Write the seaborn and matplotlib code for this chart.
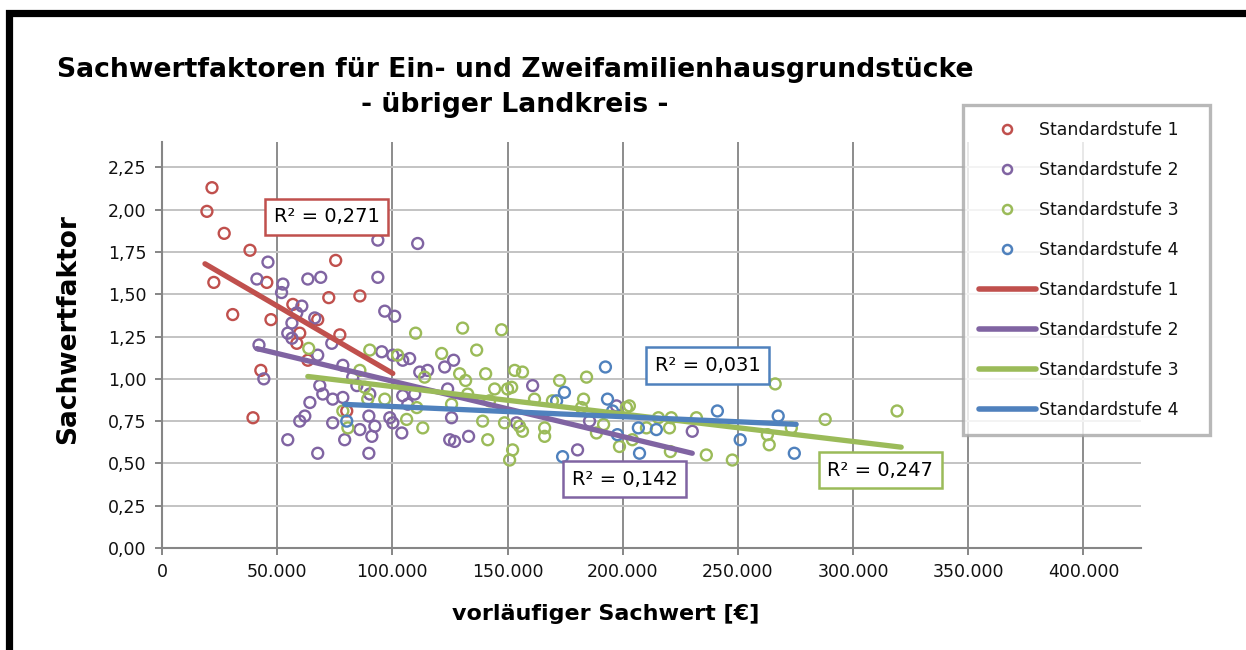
import numpy as np
import pandas as pd
import matplotlib
matplotlib.use("Agg")
import matplotlib.pyplot as plt
from matplotlib.lines import Line2D
from matplotlib.patches import Rectangle
from matplotlib.ticker import FuncFormatter, MultipleLocator
import seaborn as sns

# --- Daten ---
stufen = ["Standardstufe 1", "Standardstufe 2", "Standardstufe 3", "Standardstufe 4"]
farben = ["#C0504D", "#8064A2", "#9BBB59", "#4F81BD"]

s1_x = [21700, 19500, 27000, 38200, 22500, 45500, 30700, 47300, 75400, 72400,
        85900, 56800, 67600, 59800, 77200, 58500, 63300, 42900, 39500, 80200]
s1_y = [2.13, 1.99, 1.86, 1.76, 1.57, 1.57, 1.38, 1.35, 1.70, 1.48,
        1.49, 1.44, 1.35, 1.27, 1.26, 1.21, 1.11, 1.05, 0.77, 0.81]

s2_x = [46000, 41200, 52500, 51900, 63300, 68900, 60700, 58500, 56400, 66300,
        54600, 56400, 93700, 93700, 96700, 101000, 73700, 42100, 111000, 44200,
        54600, 67600, 59800, 62000, 64200, 68500, 69800, 74100, 78500, 74100,
        79300, 89800, 85900, 91100, 92400, 89800, 98900, 100200, 104100, 78500,
        67600, 95400, 100200, 104500, 84600, 90200, 82800, 107500, 111900, 115300,
        122700, 126600, 124000, 104500, 109700, 106700, 125700, 124900, 127000, 133100,
        160900, 153900, 180400, 197300, 185600, 230200]
s2_y = [1.69, 1.59, 1.56, 1.51, 1.59, 1.60, 1.43, 1.39, 1.33, 1.36,
        1.27, 1.24, 1.82, 1.60, 1.40, 1.37, 1.21, 1.20, 1.80, 1.00,
        0.64, 0.56, 0.75, 0.78, 0.86, 0.96, 0.91, 0.88, 0.89, 0.74,
        0.64, 0.78, 0.70, 0.66, 0.72, 0.56, 0.77, 0.74, 0.68, 1.08,
        1.14, 1.16, 1.14, 1.11, 0.96, 0.91, 1.01, 1.12, 1.04, 1.05,
        1.07, 1.11, 0.94, 0.90, 0.91, 0.85, 0.77, 0.64, 0.63, 0.66,
        0.96, 0.74, 0.58, 0.84, 0.75, 0.69]

s3_x = [63700, 90200, 102300, 85900, 88000, 89300, 96700, 78500, 80700, 106200,
        110100, 130500, 147400, 121400, 136600, 129200, 140500, 131800, 114000, 153100,
        156500, 172600, 184300, 144400, 150000, 151800, 132700, 125700, 142200, 161700,
        169500, 183000, 110600, 113200, 139200, 148700, 155200, 156500, 166100, 166100,
        141400, 152200, 150900, 182100, 191700, 188600, 198600, 201600, 202900, 204200,
        215500, 221100, 220300, 220700, 232000, 236300, 247600, 266200, 262800, 263600,
        287900, 319100, 210300, 273200]
s3_y = [1.18, 1.17, 1.14, 1.05, 0.95, 0.88, 0.88, 0.81, 0.71, 0.76,
        1.27, 1.30, 1.29, 1.15, 1.17, 1.03, 1.03, 0.99, 1.01, 1.05,
        1.04, 0.99, 1.01, 0.94, 0.94, 0.95, 0.91, 0.85, 0.87, 0.88,
        0.87, 0.88, 0.83, 0.71, 0.75, 0.74, 0.72, 0.69, 0.71, 0.66,
        0.64, 0.58, 0.52, 0.83, 0.73, 0.68, 0.60, 0.83, 0.84, 0.64,
        0.77, 0.77, 0.71, 0.57, 0.77, 0.55, 0.52, 0.97, 0.67, 0.61,
        0.76, 0.81, 0.71, 0.71]

s4_x = [80200, 192500, 174700, 171300, 193400, 195600, 173900, 197700, 206800, 214600,
        207300, 241100, 251000, 267500, 274500]
s4_y = [0.75, 1.07, 0.92, 0.87, 0.88, 0.81, 0.54, 0.67, 0.71, 0.70,
        0.56, 0.81, 0.64, 0.78, 0.56]

# lineare Trendlinien: Anfangs- und Endpunkt
trend_x = [[18650, 100200], [41200, 230200], [63300, 320900], [79300, 275300]]
trend_y = [[1.680, 1.032], [1.179, 0.560], [1.014, 0.596], [0.849, 0.731]]

r2_text = ["R² = 0,271", "R² = 0,142", "R² = 0,247", "R² = 0,031"]
r2_x = [71500, 200800, 311800, 236800]
r2_y = [1.957, 0.407, 0.460, 1.079]


def deutsch_zahl(v, pos):
    return f"{v:,.0f}".replace(",", ".")


def deutsch_komma(v, pos):
    return f"{v:.2f}".replace(".", ",")


def main():
    punkte = pd.concat([
        pd.DataFrame({"wert": s1_x, "faktor": s1_y, "stufe": stufen[0]}),
        pd.DataFrame({"wert": s2_x, "faktor": s2_y, "stufe": stufen[1]}),
        pd.DataFrame({"wert": s3_x, "faktor": s3_y, "stufe": stufen[2]}),
        pd.DataFrame({"wert": s4_x, "faktor": s4_y, "stufe": stufen[3]}),
    ], ignore_index=True)

    trend = pd.concat([
        pd.DataFrame({"wert": trend_x[i], "faktor": trend_y[i], "stufe": stufen[i]})
        for i in range(4)
    ], ignore_index=True)

    sns.set_theme(style="white")
    plt.rcParams["font.family"] = ["DejaVu Sans"]
    plt.rcParams["text.color"] = "black"
    palette = dict(zip(stufen, farben))

    fig = plt.figure(figsize=(12.46, 6.5), dpi=100)
    ax = fig.add_axes([162 / 1246, 1 - 548 / 650, (1141 - 162) / 1246, (548 - 142) / 650])

    # Streupunkte (offene Kreise)
    sns.scatterplot(data=punkte, x="wert", y="faktor", hue="stufe", palette=palette,
                    s=62, linewidth=1.7, legend=False, ax=ax, zorder=3)
    for coll in ax.collections:
        fc = coll.get_facecolors()
        coll.set_edgecolors(fc)
        coll.set_facecolors("none")

    # Trendlinien
    sns.lineplot(data=trend, x="wert", y="faktor", hue="stufe", palette=palette,
                 linewidth=3.8, legend=False, ax=ax, zorder=4, solid_capstyle="round")

    ax.set_xlim(0, 425000)
    ax.set_ylim(0, 2.4)
    ax.xaxis.set_major_locator(MultipleLocator(50000))
    ax.xaxis.set_major_formatter(FuncFormatter(deutsch_zahl))
    ax.yaxis.set_major_formatter(FuncFormatter(deutsch_komma))
    ax.set_yticks(np.arange(0, 2.26, 0.25))

    ax.grid(True, axis="y", color="#c3c3c3", linewidth=1.4)
    ax.grid(True, axis="x", color="#8c8c8c", linewidth=1.4)
    ax.set_axisbelow(True)
    for side in ["top", "right"]:
        ax.spines[side].set_visible(False)
    for side in ["left", "bottom"]:
        ax.spines[side].set_color("#868686")
        ax.spines[side].set_linewidth(1.5)
    ax.tick_params(axis="both", which="major", length=5, width=1.4, color="#868686",
                   labelsize=12.5, labelcolor="#111111", pad=6, bottom=True, left=True)

    ax.set_xlabel("")
    ax.set_ylabel("")
    fig.text(606 / 1246, 1 - 614 / 650, "vorläufiger Sachwert [€]", fontsize=16,
             fontweight="bold", ha="center", va="center", color="black")
    fig.text(68 / 1246, 1 - 329 / 650, "Sachwertfaktor", fontsize=19,
             fontweight="bold", ha="center", va="center", rotation=90, color="black")

    # Titel
    fig.text(515 / 1246, 1 - 70 / 650, "Sachwertfaktoren für Ein- und Zweifamilienhausgrundstücke",
             fontsize=19.2, fontweight="bold", ha="center", va="center", color="black")
    fig.text(515 / 1246, 1 - 105 / 650, "- übriger Landkreis -",
             fontsize=19.2, fontweight="bold", ha="center", va="center", color="black")

    # R²-Beschriftungen
    for txt, x, y, col in zip(r2_text, r2_x, r2_y, farben):
        ax.text(x, y, txt, fontsize=14, ha="center", va="center", zorder=6, color="black",
                bbox=dict(boxstyle="square,pad=0.45", fc="white", ec=col, lw=1.8))

    # Legende
    handles = []
    for col in farben:
        handles.append(Line2D([], [], marker="o", linestyle="none", markersize=6.5,
                              markerfacecolor="none", markeredgecolor=col, markeredgewidth=1.8))
    for col in farben:
        handles.append(Line2D([], [], color=col, linewidth=4, solid_capstyle="round"))
    labels = stufen + stufen
    leg = fig.legend(handles, labels, loc="upper left",
                     bbox_to_anchor=(963 / 1246, 1 - 430 / 650, 247 / 1246, 325 / 650),
                     mode="expand", fontsize=12.5, frameon=True, fancybox=False,
                     handlelength=3.3, handletextpad=0.15, labelspacing=1.27,
                     borderpad=0.9, borderaxespad=0)
    leg.get_frame().set_edgecolor("#a6a6a6")
    leg.get_frame().set_linewidth(2.4)
    for t in leg.get_texts():
        t.set_color("#111111")

    # schwarzer Rahmen
    fig.add_artist(Rectangle((8.5 / 1246, -0.1), 1.2, 1 - 13 / 650 + 0.1,
                             transform=fig.transFigure, fill=False, ec="black", lw=5.2))

    plt.savefig("out.png", dpi=100)


if __name__ == "__main__":
    main()
